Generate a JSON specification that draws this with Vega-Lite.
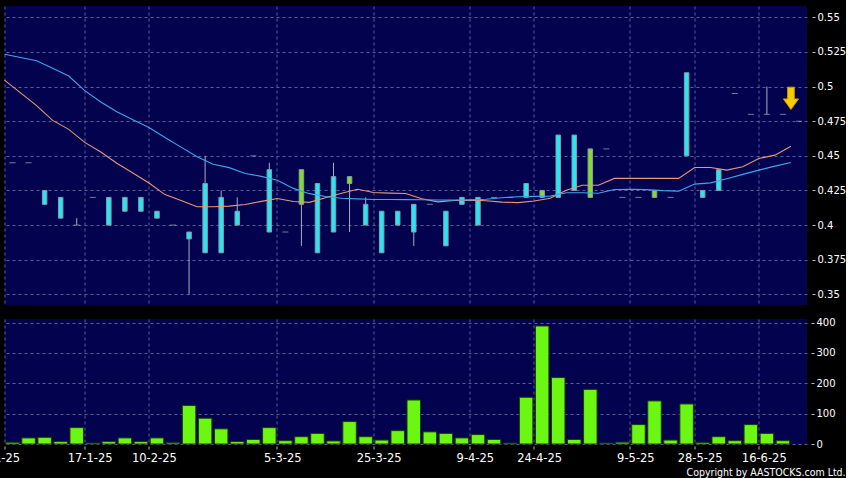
{
  "$schema": "https://vega.github.io/schema/vega-lite/v6.json",
  "autosize": {"type": "pad"},
  "padding": {"left": -18.5, "top": 6, "right": 0, "bottom": 0},
  "background": "#000000",
  "bounds": "flush",
  "spacing": 14,
  "title": {"text": "Copyright by AASTOCKS.com Ltd.", "orient": "bottom", "anchor": "end", "font": "DejaVu Sans Condensed", "fontSize": 10.5, "fontWeight": "normal", "color": "#ffffff", "offset": 4},
  "config": {
    "view": {"fill": "#02024f", "stroke": null},
    "axis": {"gridColor": "#5c5c98", "gridDash": [3, 3], "gridWidth": 1, "domain": false, "labelColor": "#ffffff", "labelFont": "DejaVu Sans", "tickColor": "#b8b8b8", "title": null, "labelOverlap": false}
  },
  "datasets": {
    "k": [
      {"slot": 1, "o": 0.445, "h": 0.445, "l": 0.445, "c": 0.445, "v": 5.5, "m10": 0.5047, "m20": 0.5233},
      {"slot": 2, "o": 0.445, "h": 0.445, "l": 0.445, "c": 0.445, "v": 20, "m10": 0.4955, "m20": 0.5210},
      {"slot": 3, "o": 0.425, "h": 0.425, "l": 0.415, "c": 0.415, "v": 22, "m10": 0.4863, "m20": 0.5187},
      {"slot": 4, "o": 0.42, "h": 0.42, "l": 0.405, "c": 0.405, "v": 8, "m10": 0.4756, "m20": 0.5132},
      {"slot": 5, "o": 0.4, "h": 0.405, "l": 0.4, "c": 0.4, "v": 54, "m10": 0.4691, "m20": 0.5076},
      {"slot": 6, "o": 0.42, "h": 0.42, "l": 0.42, "c": 0.42, "v": 3, "m10": 0.4597, "m20": 0.4971},
      {"slot": 7, "o": 0.42, "h": 0.42, "l": 0.4, "c": 0.4, "v": 8, "m10": 0.4528, "m20": 0.4889},
      {"slot": 8, "o": 0.42, "h": 0.42, "l": 0.41, "c": 0.41, "v": 20, "m10": 0.4447, "m20": 0.4819},
      {"slot": 9, "o": 0.42, "h": 0.42, "l": 0.41, "c": 0.41, "v": 8, "m10": 0.4376, "m20": 0.4761},
      {"slot": 10, "o": 0.41, "h": 0.41, "l": 0.405, "c": 0.405, "v": 20, "m10": 0.4304, "m20": 0.4704},
      {"slot": 11, "o": 0.4, "h": 0.4, "l": 0.4, "c": 0.4, "v": 4, "m10": 0.4220, "m20": 0.4633},
      {"slot": 12, "o": 0.395, "h": 0.395, "l": 0.35, "c": 0.39, "v": 127, "m10": 0.4178, "m20": 0.4563},
      {"slot": 13, "o": 0.43, "h": 0.45, "l": 0.38, "c": 0.38, "v": 85, "m10": 0.4132, "m20": 0.4493},
      {"slot": 14, "o": 0.42, "h": 0.425, "l": 0.38, "c": 0.38, "v": 50, "m10": 0.4132, "m20": 0.4439},
      {"slot": 15, "o": 0.41, "h": 0.42, "l": 0.4, "c": 0.4, "v": 8, "m10": 0.4137, "m20": 0.4415},
      {"slot": 16, "o": 0.45, "h": 0.45, "l": 0.45, "c": 0.45, "v": 15, "m10": 0.4149, "m20": 0.4373},
      {"slot": 17, "o": 0.44, "h": 0.445, "l": 0.395, "c": 0.395, "v": 54, "m10": 0.4171, "m20": 0.4352},
      {"slot": 18, "o": 0.395, "h": 0.395, "l": 0.395, "c": 0.395, "v": 11, "m10": 0.4192, "m20": 0.4324},
      {"slot": 19, "o": 0.415, "h": 0.44, "l": 0.385, "c": 0.44, "v": 24, "m10": 0.4170, "m20": 0.4265},
      {"slot": 20, "o": 0.43, "h": 0.43, "l": 0.38, "c": 0.38, "v": 35, "m10": 0.4164, "m20": 0.4227},
      {"slot": 21, "o": 0.435, "h": 0.445, "l": 0.395, "c": 0.395, "v": 10, "m10": 0.4198, "m20": 0.4207},
      {"slot": 22, "o": 0.43, "h": 0.435, "l": 0.395, "c": 0.435, "v": 74, "m10": 0.4230, "m20": 0.4194},
      {"slot": 23, "o": 0.415, "h": 0.42, "l": 0.4, "c": 0.4, "v": 24, "m10": 0.4259, "m20": 0.4189},
      {"slot": 24, "o": 0.41, "h": 0.41, "l": 0.38, "c": 0.38, "v": 13, "m10": 0.4235, "m20": 0.4185},
      {"slot": 25, "o": 0.41, "h": 0.41, "l": 0.4, "c": 0.4, "v": 44, "m10": 0.4231, "m20": 0.4185},
      {"slot": 26, "o": 0.415, "h": 0.415, "l": 0.385, "c": 0.395, "v": 145, "m10": 0.4228, "m20": 0.4184},
      {"slot": 27, "o": 0.415, "h": 0.415, "l": 0.415, "c": 0.415, "v": 40, "m10": 0.4190, "m20": 0.4183},
      {"slot": 28, "o": 0.41, "h": 0.41, "l": 0.385, "c": 0.385, "v": 35, "m10": 0.4168, "m20": 0.4181},
      {"slot": 29, "o": 0.42, "h": 0.42, "l": 0.415, "c": 0.415, "v": 20, "m10": 0.4178, "m20": 0.4180},
      {"slot": 30, "o": 0.42, "h": 0.42, "l": 0.4, "c": 0.4, "v": 31, "m10": 0.4180, "m20": 0.4182},
      {"slot": 31, "o": 0.42, "h": 0.42, "l": 0.42, "c": 0.42, "v": 15, "m10": 0.4176, "m20": 0.4187},
      {"slot": 32, "o": 0.42, "h": 0.42, "l": 0.42, "c": 0.42, "v": 3, "m10": 0.4166, "m20": 0.4197},
      {"slot": 33, "o": 0.43, "h": 0.43, "l": 0.42, "c": 0.42, "v": 154, "m10": 0.4162, "m20": 0.4205},
      {"slot": 34, "o": 0.42, "h": 0.425, "l": 0.42, "c": 0.425, "v": 389, "m10": 0.4174, "m20": 0.4207},
      {"slot": 35, "o": 0.465, "h": 0.465, "l": 0.42, "c": 0.42, "v": 219, "m10": 0.4194, "m20": 0.4209},
      {"slot": 36, "o": 0.465, "h": 0.465, "l": 0.425, "c": 0.425, "v": 15, "m10": 0.4252, "m20": 0.4233},
      {"slot": 37, "o": 0.42, "h": 0.455, "l": 0.42, "c": 0.455, "v": 180, "m10": 0.4288, "m20": 0.4233},
      {"slot": 38, "o": 0.455, "h": 0.455, "l": 0.455, "c": 0.455, "v": 3, "m10": 0.4288, "m20": 0.4230},
      {"slot": 39, "o": 0.42, "h": 0.42, "l": 0.42, "c": 0.42, "v": 6, "m10": 0.4337, "m20": 0.4257},
      {"slot": 40, "o": 0.42, "h": 0.42, "l": 0.42, "c": 0.42, "v": 64, "m10": 0.4337, "m20": 0.4259},
      {"slot": 41, "o": 0.42, "h": 0.425, "l": 0.42, "c": 0.425, "v": 142, "m10": 0.4337, "m20": 0.4256},
      {"slot": 42, "o": 0.42, "h": 0.42, "l": 0.42, "c": 0.42, "v": 13, "m10": 0.4337, "m20": 0.4249},
      {"slot": 43, "o": 0.51, "h": 0.51, "l": 0.45, "c": 0.45, "v": 132, "m10": 0.4337, "m20": 0.4245},
      {"slot": 44, "o": 0.425, "h": 0.425, "l": 0.42, "c": 0.42, "v": 5, "m10": 0.4416, "m20": 0.4296},
      {"slot": 45, "o": 0.44, "h": 0.44, "l": 0.425, "c": 0.425, "v": 24, "m10": 0.4416, "m20": 0.4305},
      {"slot": 46, "o": 0.495, "h": 0.495, "l": 0.495, "c": 0.495, "v": 11, "m10": 0.4397, "m20": 0.4335},
      {"slot": 47, "o": 0.48, "h": 0.48, "l": 0.48, "c": 0.48, "v": 64, "m10": 0.4421, "m20": 0.4366},
      {"slot": 48, "o": 0.48, "h": 0.5, "l": 0.48, "c": 0.48, "v": 35, "m10": 0.4481, "m20": 0.4397},
      {"slot": 49, "o": 0.48, "h": 0.48, "l": 0.48, "c": 0.48, "v": 11, "m10": 0.4505, "m20": 0.4426},
      {"slot": 50, "o": 0.475, "h": 0.475, "l": 0.475, "c": 0.475, "v": null, "m10": 0.4570, "m20": 0.4452}
    ],
    "arrow": [{"slot": 50, "p": 0.4915}]
  },
  "vconcat": [
    {
      "width": 802.5,
      "height": 299,
      "data": {"name": "k"},
      "encoding": {
        "x": {"field": "slot", "type": "ordinal", "scale": {"domain": [1,2,3,4,5,6,7,8,9,10,11,12,13,14,15,16,17,18,19,20,21,22,23,24,25,26,27,28,29,30,31,32,33,34,35,36,37,38,39,40,41,42,43,44,45,46,47,48,49,50], "paddingInner": 0, "paddingOuter": 0},
          "axis": {"values": [1,6,10,18,24,30,34,40,44,48], "bandPosition": 0, "labels": false, "ticks": false, "grid": true, "domain": false}}
      },
      "layer": [
        {
          "transform": [{"filter": "datum.h > datum.l"}],
          "mark": {"type": "rule", "color": "#a8aec0", "strokeWidth": 1},
          "encoding": {
            "y": {"field": "l", "type": "quantitative", "scale": {"domain": [0.3423, 0.5582], "nice": false, "zero": false},
              "axis": {"orient": "right", "values": [0.35,0.375,0.4,0.425,0.45,0.475,0.5,0.525,0.55], "tickCount": 20, "format": ".3~f", "offset": 5, "tickSize": 3, "labelPadding": 2, "labelFontSize": 10, "grid": true, "labelOverlap": false}},
            "y2": {"field": "h"}
          }
        },
        {
          "transform": [{"filter": "datum.o != datum.c"}],
          "mark": {"type": "bar", "size": 4.5, "stroke": "#8c9aa8", "strokeWidth": 1},
          "encoding": {
            "y": {"field": "o", "type": "quantitative"},
            "y2": {"field": "c"},
            "fill": {"condition": {"test": "datum.c > datum.o", "value": "#80de28"}, "value": "#26e6f0"}
          }
        },
        {
          "transform": [{"filter": "datum.o == datum.c"}],
          "mark": {"type": "tick", "size": 6, "thickness": 1, "color": "#a8aec0"},
          "encoding": {"y": {"field": "c", "type": "quantitative"}}
        },
        {
          "mark": {"type": "line", "color": "#e8967a", "strokeWidth": 1.1},
          "encoding": {"x": {"field": "slot", "type": "ordinal", "bandPosition": 0}, "y": {"field": "m10", "type": "quantitative"}}
        },
        {
          "mark": {"type": "line", "color": "#3fa6ea", "strokeWidth": 1.1},
          "encoding": {"x": {"field": "slot", "type": "ordinal", "bandPosition": 0}, "y": {"field": "m20", "type": "quantitative"}}
        },
        {
          "data": {"name": "arrow"},
          "mark": {"type": "point", "filled": true, "shape": "M-0.3,-1L0.3,-1L0.3,0.05L0.68,0.05L0,1L-0.68,0.05L-0.3,0.05Z", "size": 500, "fill": "#f7cc00", "stroke": "#c89a00", "strokeWidth": 1, "opacity": 1},
          "encoding": {"x": {"field": "slot", "type": "ordinal", "bandPosition": 0}, "y": {"field": "p", "type": "quantitative"}}
        }
      ]
    },
    {
      "width": 802.5,
      "height": 125,
      "data": {"name": "k"},
      "mark": {"type": "bar", "size": 13.5, "fill": "#6cf712", "stroke": "#1c3a06", "strokeWidth": 1},
      "encoding": {
        "x": {"field": "slot", "type": "ordinal", "scale": {"domain": [1,2,3,4,5,6,7,8,9,10,11,12,13,14,15,16,17,18,19,20,21,22,23,24,25,26,27,28,29,30,31,32,33,34,35,36,37,38,39,40,41,42,43,44,45,46,47,48,49,50], "paddingInner": 0, "paddingOuter": 0},
          "axis": {"values": [1,6,10,18,24,30,34,40,44,48], "bandPosition": 0, "grid": true, "labelAngle": 0, "offset": 2, "tickSize": 3, "labelPadding": 3, "labelFontSize": 11.5,
            "labelOffset": {"condition": {"test": "datum.value == 1", "value": -11.2}, "value": -2.6},
            "labelExpr": "datum.value == 1 ? '2-1-25' : datum.value == 6 ? '17-1-25' : datum.value == 10 ? '10-2-25' : datum.value == 18 ? '5-3-25' : datum.value == 24 ? '25-3-25' : datum.value == 30 ? '9-4-25' : datum.value == 34 ? '24-4-25' : datum.value == 40 ? '9-5-25' : datum.value == 44 ? '28-5-25' : '16-6-25'"}},
        "y": {"field": "v", "type": "quantitative", "scale": {"domain": [0, 412], "nice": false},
          "axis": {"orient": "right", "values": [0, 100, 200, 300, 400], "tickCount": 20, "offset": 4, "tickSize": 3, "labelPadding": 2, "labelFontSize": 10, "grid": true, "labelOverlap": false}}
      }
    }
  ]
}
